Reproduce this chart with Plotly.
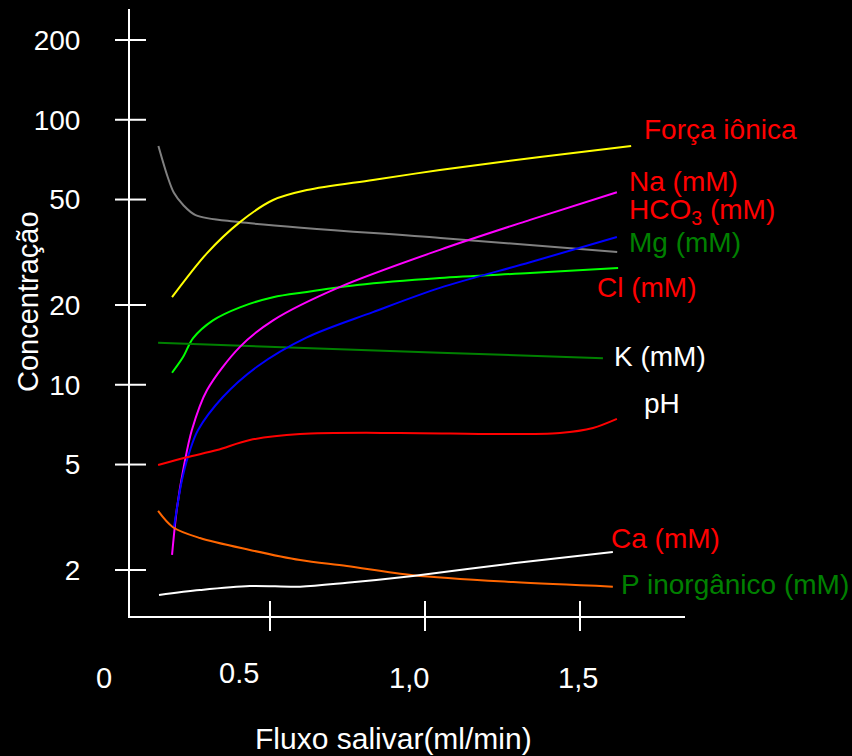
import plotly.graph_objects as go

# ---- data (flow in ml/min, concentration) ----
x_gray = [0.14, 0.17, 0.19, 0.22, 0.26, 0.40, 1.05, 1.62]
y_gray = [79.6, 60.8, 53.0, 47.7, 43.7, 41.1, 35.8, 31.7]

x_yellow = [0.184, 0.297, 0.403, 0.510, 0.619, 0.832, 1.048, 1.371, 1.665]
y_yellow = [21.4, 31.4, 41.1, 49.8, 54.3, 59.3, 64.6, 72.4, 79.6]

x_magenta = [0.184, 0.200, 0.223, 0.248, 0.297, 0.403, 0.510, 0.726, 1.048, 1.339, 1.619]
y_magenta = [2.28, 3.43, 4.98, 6.75, 9.55, 13.9, 17.5, 23.4, 32.3, 41.9, 53.3]

x_blue = [0.190, 0.216, 0.242, 0.268, 0.348, 0.458, 0.619, 0.832, 1.048, 1.339, 1.619]
y_blue = [2.88, 4.37, 5.67, 6.75, 8.99, 11.7, 15.1, 18.8, 23.2, 29.0, 36.1]

x_lime = [0.184, 0.219, 0.252, 0.316, 0.403, 0.510, 0.619, 0.781, 1.048, 1.339, 1.623]
y_lime = [11.1, 12.7, 15.0, 17.5, 19.6, 21.4, 22.4, 23.8, 25.3, 26.4, 27.6]

x_dkgreen = [0.139, 1.048, 1.574]
y_dkgreen = [14.4, 13.2, 12.6]

x_red = [0.139, 0.232, 0.329, 0.435, 0.597, 0.919, 1.242, 1.435, 1.542, 1.619]
y_red = [4.98, 5.33, 5.67, 6.19, 6.52, 6.58, 6.52, 6.58, 6.87, 7.43]

x_orange = [0.139, 0.187, 0.274, 0.435, 0.597, 0.748, 0.961, 1.284, 1.606]
y_orange = [3.34, 2.90, 2.64, 2.38, 2.18, 2.07, 1.91, 1.80, 1.73]

x_white = [0.142, 0.274, 0.435, 0.597, 0.748, 0.961, 1.284, 1.606]
y_white = [1.61, 1.68, 1.74, 1.73, 1.79, 1.90, 2.12, 2.34]

y_ticks = [2, 5, 10, 20, 50, 100, 200]
x_tick_marks = [0.5, 1.0, 1.5]
x_tick_labels = ["0", "0.5", "1,0", "1,5"]

series_labels = ["Força iônica", "Na (mM)", "HCO<sub>3</sub> (mM)", "Mg (mM)", "Cl (mM)",
                 "K (mM)", "pH", "Ca (mM)", "P inorgânico (mM)"]

FONT = "Liberation Sans, Arial, Helvetica, sans-serif"

fig = go.Figure()
curves = [
    (x_gray, y_gray, "#808080"),
    (x_yellow, y_yellow, "#ffff00"),
    (x_lime, y_lime, "#00ff00"),
    (x_dkgreen, y_dkgreen, "#008000"),
    (x_magenta, y_magenta, "#ff00ff"),
    (x_blue, y_blue, "#0000ff"),
    (x_red, y_red, "#ff0000"),
    (x_orange, y_orange, "#ff6600"),
    (x_white, y_white, "#ffffff"),
]
for xs, ys, c in curves:
    fig.add_trace(go.Scatter(x=xs, y=ys, mode="lines",
                             line=dict(color=c, width=2, shape="spline", smoothing=0.9),
                             showlegend=False, hoverinfo="skip"))

# crossing tick marks
shapes = []
for xv in x_tick_marks:
    shapes.append(dict(type="line", xref="x", yref="paper", ysizemode="pixel", yanchor=0,
                       x0=xv, x1=xv, y0=-15, y1=15, line=dict(color="white", width=2)))
for yv in y_ticks:
    shapes.append(dict(type="line", yref="y", xref="paper", xsizemode="pixel", xanchor=0,
                       y0=yv, y1=yv, x0=-15, x1=16, line=dict(color="white", width=2)))

annotations = []
# x tick labels
xl_pos = [(-0.0468, -0.1021), (0.1964, -0.0939), (0.5027, -0.1021), (0.8072, -0.1021)]
for t, (px, py) in zip(x_tick_labels, xl_pos):
    annotations.append(dict(text=t, xref="paper", yref="paper", x=px, y=py, showarrow=False,
                            xanchor="center", yanchor="middle",
                            font=dict(family=FONT, size=29, color="white")))

# series labels
lab_style = [
    (0.9225, 0.8023, "#ff0000"),
    (0.8955, 0.7166, "#ff0000"),
    (0.8955, 0.6656, "#ff0000"),
    (0.8955, 0.6145, "#008000"),
    (0.8378, 0.5420, "#ff0000"),
    (0.8685, 0.4283, "#ffffff"),
    (0.9225, 0.3509, "#ffffff"),
    (0.8631, 0.1285, "#ff0000"),
    (0.8811, 0.0527, "#008000"),
]
for t, (px, py, c) in zip(series_labels, lab_style):
    annotations.append(dict(text=t, xref="paper", yref="paper", x=px, y=py, showarrow=False,
                            xanchor="left", yanchor="middle",
                            font=dict(family=FONT, size=28, color=c)))

# axis titles
annotations.append(dict(text="Concentração", xref="paper", yref="paper", x=-0.1838, y=0.519,
                        textangle=-90, showarrow=False, xanchor="center", yanchor="middle",
                        font=dict(family=FONT, size=29, color="white")))
annotations.append(dict(text="Fluxo salivar(ml/min)", xref="paper", yref="paper", x=0.4748, y=-0.201,
                        showarrow=False, xanchor="center", yanchor="middle",
                        font=dict(family=FONT, size=30, color="white")))

fig.update_layout(
    width=852, height=756,
    margin=dict(l=130, r=167, t=9, b=140),
    paper_bgcolor="black", plot_bgcolor="black",
    shapes=shapes, annotations=annotations,
    xaxis=dict(range=[0.04839, 1.83871], showgrid=False, zeroline=False, showline=True,
               linecolor="white", linewidth=2, ticks="", showticklabels=False),
    yaxis=dict(type="log", range=[0.1274, 2.418], showgrid=False, zeroline=False, showline=True,
               linecolor="white", linewidth=2, ticks="", tickvals=y_ticks,
               ticktext=[str(v) for v in y_ticks], ticklabelstandoff=42,
               tickfont=dict(family=FONT, size=28, color="white")),
)

fig.write_html("out.html")
